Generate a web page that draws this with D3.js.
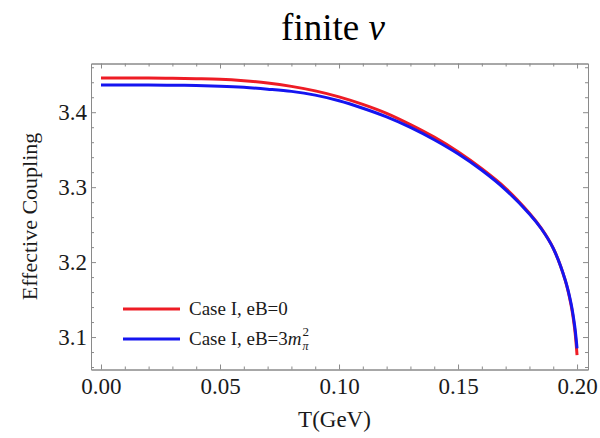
<!DOCTYPE html>
<html>
<head>
<meta charset="utf-8">
<script src="https://cdn.jsdelivr.net/npm/d3@7/dist/d3.min.js"></script>
<style>
  html, body { margin: 0; padding: 0; background: #fff; }
  svg { display: block; }
  .frame path.domain { stroke: #8a8a8a; }
  .frame line { stroke: #8a8a8a; }
  .frame text { fill: #1a1a1a; font-family: "Liberation Serif", "Times New Roman", serif; font-size: 23px; }
</style>
</head>
<body>
<script>
// Temperature grid (GeV)
const temps = [0, 0.01, 0.02, 0.03, 0.04, 0.05, 0.06, 0.07, 0.08, 0.09, 0.10, 0.11, 0.12,
  0.13, 0.14, 0.15, 0.16, 0.17, 0.18, 0.185, 0.19, 0.195, 0.1975, 0.199, 0.2];

// Effective coupling, Case I, eB = 0
const couplingB0 = [3.4457, 3.4457, 3.4456, 3.4453, 3.4448, 3.4440, 3.4420, 3.4390, 3.4345,
  3.4285, 3.4205, 3.4105, 3.3985, 3.3835, 3.3667, 3.3472, 3.3245, 3.2985, 3.2652, 3.2450,
  3.2185, 3.1760, 3.1425, 3.1110, 3.0760];

// Effective coupling, Case I, eB = 3 m_pi^2
const couplingB3 = [3.4364, 3.4364, 3.4362, 3.4360, 3.4356, 3.4347, 3.4332, 3.4308, 3.4278,
  3.4228, 3.4153, 3.4053, 3.3938, 3.3798, 3.3633, 3.3445, 3.3225, 3.2965, 3.2643, 3.2445,
  3.2183, 3.1765, 3.1445, 3.1150, 3.0850];

const xMajor = [0, 0.05, 0.10, 0.15, 0.20];
const xMinor = [0.01, 0.02, 0.03, 0.04, 0.06, 0.07, 0.08, 0.09, 0.11, 0.12, 0.13, 0.14, 0.16, 0.17, 0.18, 0.19];
const yMajor = [3.1, 3.2, 3.3, 3.4];
const yMinor = [3.06, 3.08, 3.12, 3.14, 3.16, 3.18, 3.22, 3.24, 3.26, 3.28, 3.32, 3.34, 3.36, 3.38, 3.42, 3.44, 3.46];

const W = 600, H = 438;
const svg = d3.select("body").append("svg").attr("width", W).attr("height", H);

const plotLeft = 91, plotRight = 588, plotTop = 63.5, plotBottom = 369.5;
const x = d3.scaleLinear().domain([-0.0042, 0.2046]).range([plotLeft, plotRight]);
const y = d3.scaleLinear().domain([3.0567, 3.465]).range([plotBottom, plotTop]);

const serif = '"Liberation Serif", "Times New Roman", serif';

// Title
const title = svg.append("text")
  .attr("x", 333).attr("y", 40)
  .attr("text-anchor", "middle")
  .style("font-family", serif)
  .style("font-size", "37px").style("fill", "#000");
title.append("tspan").text("finite ");
title.append("tspan").style("font-style", "italic").text("v");

// Frame with inward ticks on all four sides
function axisGroup(axis, transform, labels) {
  const g = svg.append("g").attr("class", "frame").attr("transform", transform).call(axis);
  if (!labels) g.selectAll("text").remove();
  return g;
}
const fmtX = d3.format(".2f"), fmtY = d3.format(".1f");

axisGroup(d3.axisBottom(x).tickValues(xMajor).tickFormat(fmtX).tickSizeInner(-5).tickSizeOuter(0).tickPadding(8),
  `translate(0,${plotBottom})`, true);
axisGroup(d3.axisBottom(x).tickValues(xMinor).tickSizeInner(-3).tickSizeOuter(0), `translate(0,${plotBottom})`, false);
axisGroup(d3.axisTop(x).tickValues(xMajor).tickSizeInner(-5).tickSizeOuter(0), `translate(0,${plotTop})`, false);
axisGroup(d3.axisTop(x).tickValues(xMinor).tickSizeInner(-3).tickSizeOuter(0), `translate(0,${plotTop})`, false);

axisGroup(d3.axisLeft(y).tickValues(yMajor).tickFormat(fmtY).tickSizeInner(-5).tickSizeOuter(0).tickPadding(4),
  `translate(${plotLeft},0)`, true);
axisGroup(d3.axisLeft(y).tickValues(yMinor).tickSizeInner(-3).tickSizeOuter(0), `translate(${plotLeft},0)`, false);
axisGroup(d3.axisRight(y).tickValues(yMajor).tickSizeInner(-5).tickSizeOuter(0), `translate(${plotRight},0)`, false);
axisGroup(d3.axisRight(y).tickValues(yMinor).tickSizeInner(-3).tickSizeOuter(0), `translate(${plotRight},0)`, false);

// Axis titles
svg.append("text")
  .attr("transform", `translate(37,${(plotTop + plotBottom) / 2}) rotate(-90)`)
  .attr("text-anchor", "middle")
  .style("font-family", serif)
  .style("font-size", "22px").style("fill", "#1a1a1a")
  .text("Effective Coupling");

svg.append("text")
  .attr("x", (plotLeft + plotRight) / 2 - 5).attr("y", 427)
  .attr("text-anchor", "middle")
  .style("font-family", serif)
  .style("font-size", "23px").style("fill", "#1a1a1a")
  .text("T(GeV)");

// Curves
const line = d3.line()
  .x((d, i) => x(temps[i]))
  .y(d => y(d))
  .curve(d3.curveCatmullRom.alpha(0.5));

const series = [
  { values: couplingB0, color: "#ee1c25" },
  { values: couplingB3, color: "#1515f0" }
];

svg.append("g").selectAll("path")
  .data(series)
  .join("path")
  .attr("d", d => line(d.values))
  .attr("fill", "none")
  .attr("stroke", d => d.color)
  .attr("stroke-width", 3);

// Legend
const legend = svg.append("g").attr("transform", "translate(123,309)");
legend.append("line").attr("x1", 0).attr("x2", 57).attr("y1", 0).attr("y2", 0)
  .attr("stroke", series[0].color).attr("stroke-width", 3);
legend.append("text").attr("x", 66).attr("y", 6)
  .style("font-family", serif).style("font-size", "19px").style("fill", "#1a1a1a")
  .text("Case I, eB=0");

legend.append("line").attr("x1", 0).attr("x2", 57).attr("y1", 30).attr("y2", 30)
  .attr("stroke", series[1].color).attr("stroke-width", 3);
const t2 = legend.append("text").attr("x", 66).attr("y", 36)
  .style("font-family", serif).style("font-size", "19px").style("fill", "#1a1a1a");
t2.append("tspan").text("Case I, eB=3");
t2.append("tspan").style("font-style", "italic").text("m");
const t2w = t2.node().getComputedTextLength();
legend.append("text").attr("x", 66 + t2w + 1).attr("y", 27)
  .style("font-family", serif).style("font-size", "13px").style("fill", "#1a1a1a")
  .text("2");
legend.append("text").attr("x", 66 + t2w + 1).attr("y", 41)
  .style("font-family", serif).style("font-size", "12px").style("font-style", "italic").style("fill", "#1a1a1a")
  .text("π");
</script>
</body>
</html>
